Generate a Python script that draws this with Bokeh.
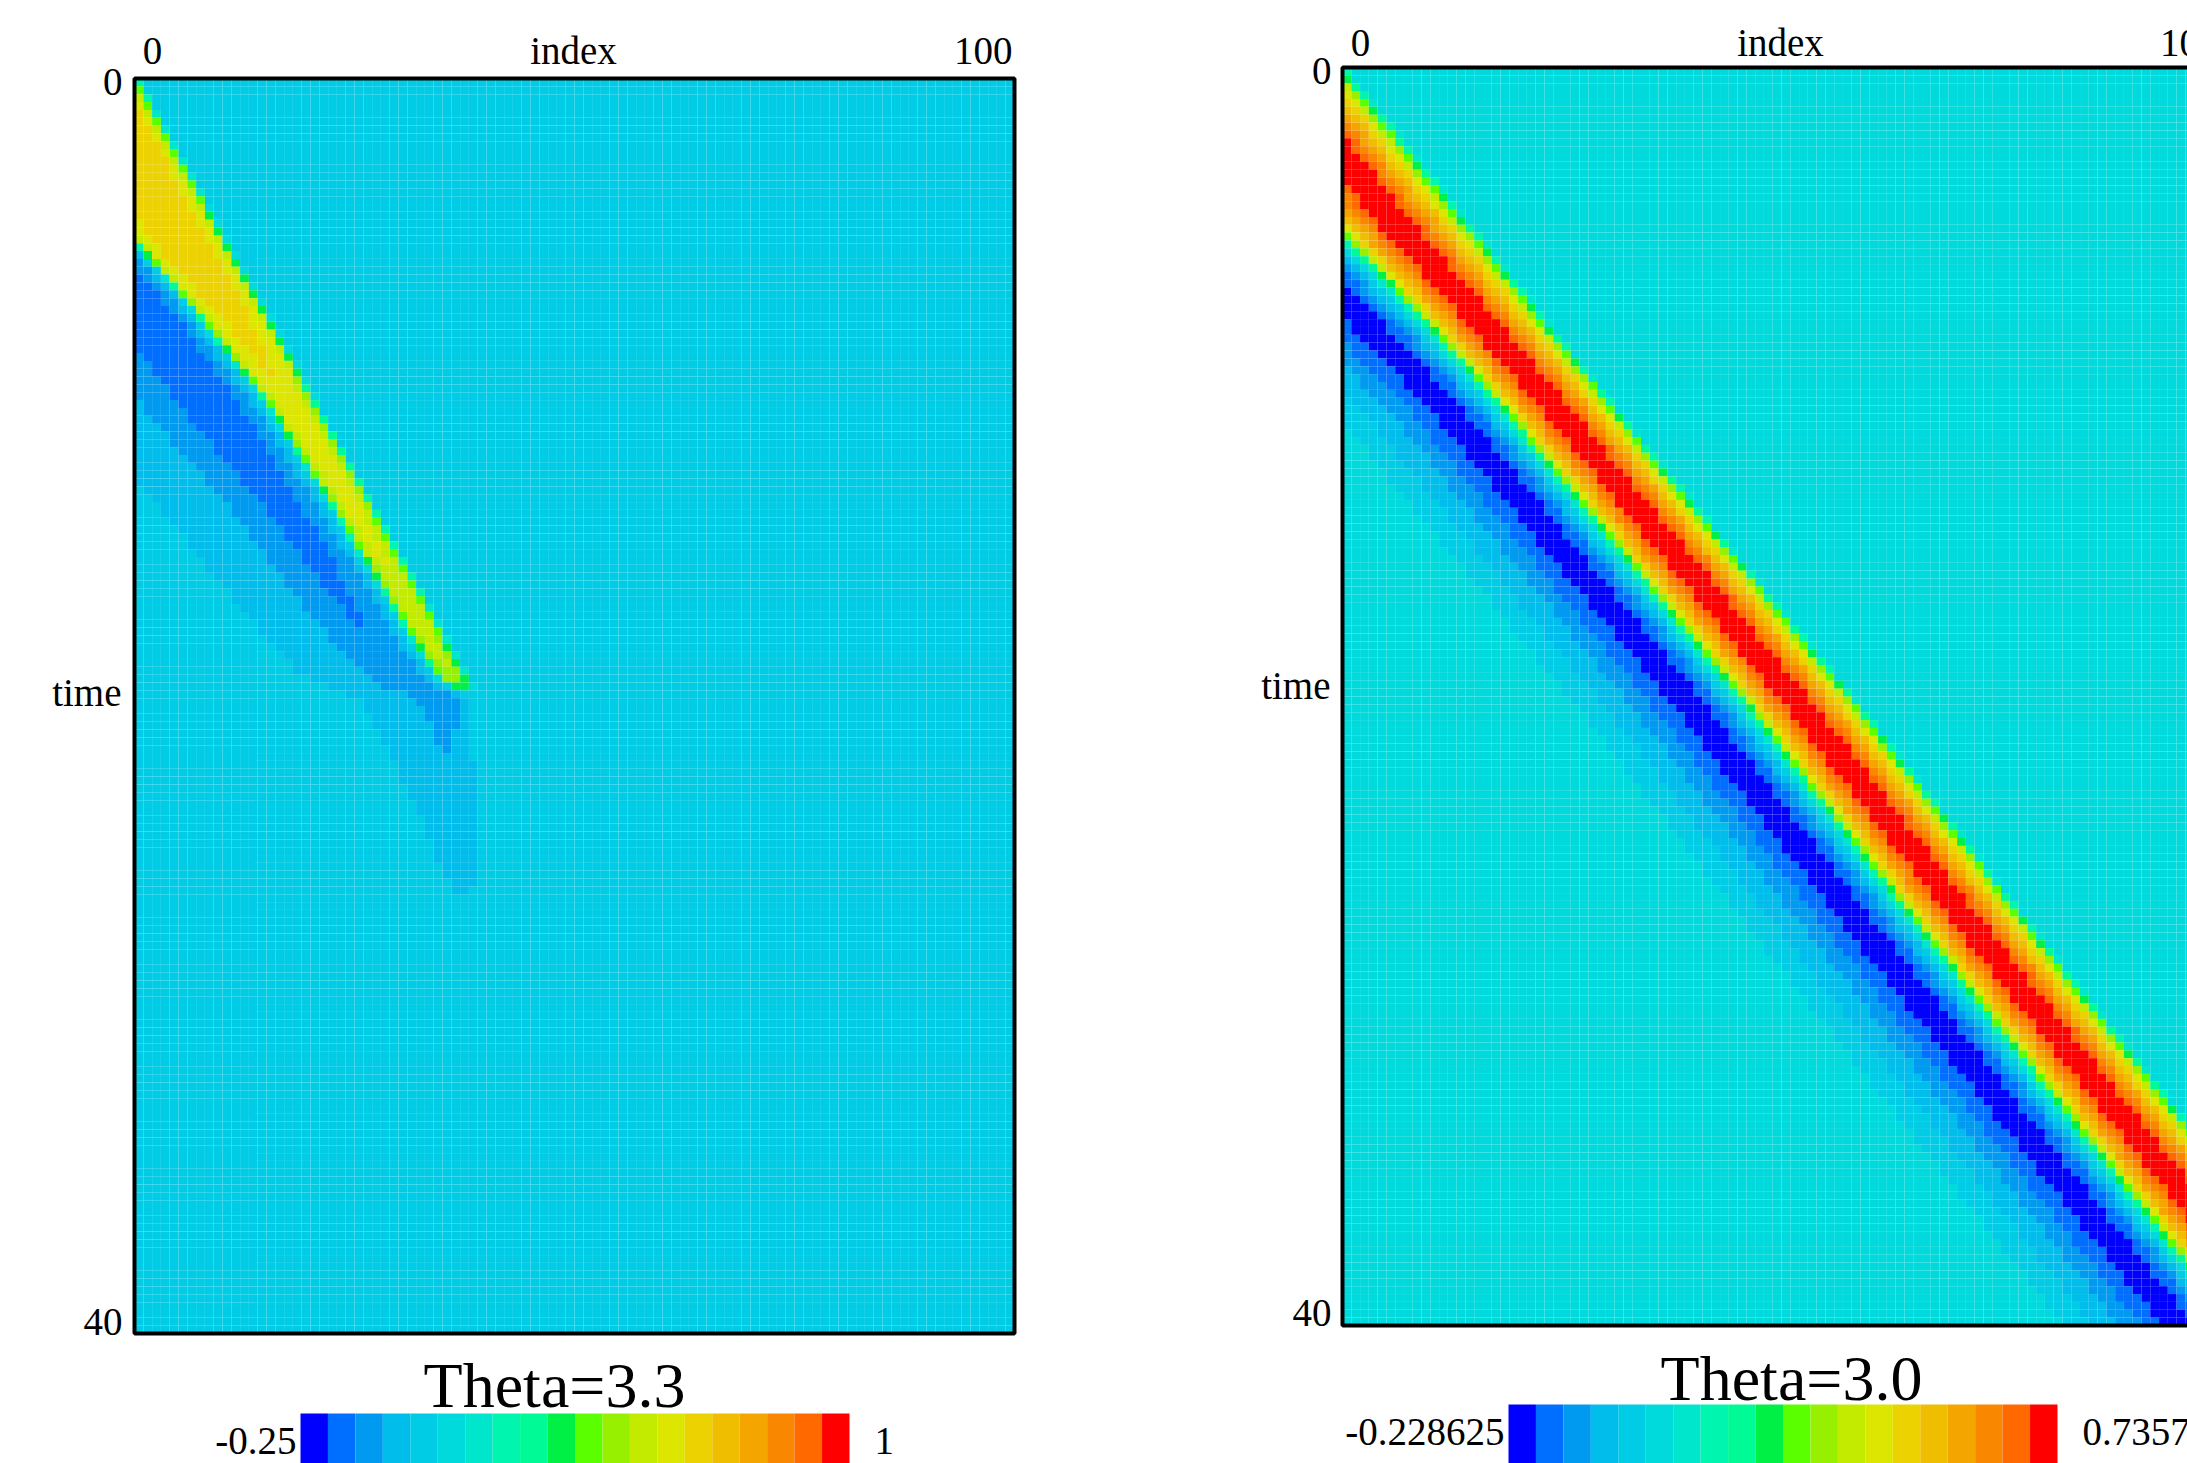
import numpy as np
from bokeh.plotting import figure
from bokeh.models import ColumnDataSource, LinearColorMapper, Label, Range1d
from bokeh.layouts import row, column
from bokeh.transform import transform
from bokeh.embed import file_html
from bokeh.resources import INLINE

FONT = "Liberation Serif"

# ---------------- colour levels (20 bands) ----------------
PALETTE = ["#0000ff", "#006eff", "#009bf0", "#00bdeb", "#00cce6",
           "#00dadc", "#00e6cd", "#00f5af", "#00fa96", "#00f046",
           "#5aff00", "#96f000", "#c3eb00", "#dce600", "#ebd200",
           "#f0be00", "#f5a500", "#fa8700", "#ff6900", "#ff0000"]

N_INDEX = 100          # index axis 0..100
N_TIME = 160           # time rows 0..40
T_MAX = 40
INDEX_TICKS = ["0", "100"]
TIME_TICKS = ["0", "40"]

# ---------------- left panel: Theta=3.3 ----------------
LEFT_TITLE = "Theta=3.3"
LEFT_MIN_LABEL, LEFT_MAX_LABEL = "-0.25", "1"
LEFT_LO, LEFT_HI = -0.25, 1.0
L_T       = [0.0, 2.5, 5.2, 7.5, 10.3, 13.5, 16.6, 18.2, 19.1, 19.4, 19.7, 21.0, 23.0, 25.0, 26.5, 40.0]
L_FRONT   = [0.0, 4.9, 10.2, 14.8, 20.3, 26.6, 32.7, 35.8, 37.6, 38.1, 38.5, 38.8, 39.1, 39.3, 39.3, 39.3]
L_WIDTH   = [9.5, 9.8, 10.0, 7.5, 5.2, 4.3, 3.7, 3.3, 2.8, 2.0, 0.0, 0.0, 0.0, 0.0, 0.0, 0.0]
L_AMP     = [0.66, 0.66, 0.65, 0.64, 0.62, 0.61, 0.60, 0.59, 0.56, 0.45, 0.0, 0.0, 0.0, 0.0, 0.0, 0.0]
L_DEPTH   = [0.19, 0.195, 0.195, 0.195, 0.18, 0.16, 0.14, 0.13, 0.12, 0.11, 0.10, 0.08, 0.05, 0.025, 0.0, 0.0]
L_STRETCH = [1.0, 1.0, 1.0, 1.0, 1.15, 1.0, 0.9, 0.85, 0.8, 0.75, 0.7, 0.6, 0.45, 0.35, 0.3, 0.3]
EDGE_X = [-1.0, -0.5, 0.0, 0.5, 1.0, 2.0, 3.0]
EDGE_V = [0.0, 0.1, 0.52, 0.8, 0.9, 0.97, 1.0]
TROUGH_X = [0.5, 1, 2, 3, 4, 5, 6, 7, 8, 10, 12, 14, 16, 18, 22]
TROUGH_V = [0.0, -0.2, -0.5, -0.75, -0.9, -1.0, -1.0, -0.95, -0.85, -0.65, -0.45, -0.3, -0.18, -0.1, 0.0]

# ---------------- right panel: Theta=3.0 ----------------
RIGHT_TITLE = "Theta=3.0"
RIGHT_MIN_LABEL, RIGHT_MAX_LABEL = "-0.228625", "0.735759"
RIGHT_LO, RIGHT_HI = -0.228625, 0.735759
R_T      = [0.0, 12.0, 20.1, 28.0, 34.4, 40.0]
R_FRONT  = [-0.6, 33.9, 57.8, 79.8, 98.0, 114.0]
R_STR_T  = [0.0, 5.0, 8.0, 11.0, 40.0]
R_STR    = [1.25, 1.22, 1.08, 1.0, 1.0]
R_D       = list(range(-1, 34))
R_PROFILE = [0.0, 0.24, 0.41, 0.50, 0.57, 0.64, 0.70, 0.7357, 0.72, 0.67, 0.60, 0.54, 0.45,
             0.25, 0.05, -0.06, -0.12, -0.17, -0.2, -0.2286, -0.225, -0.21, -0.19,
             -0.17, -0.15, -0.13, -0.11, -0.09, -0.075, -0.06, -0.045, -0.03, -0.015,
             0.0, 0.0]

# ---------------- grid ----------------
dt = T_MAX / N_TIME
tc = (np.arange(N_TIME) + 0.5) * dt
xc = np.arange(N_INDEX) + 0.5
TT, XX = np.meshgrid(tc, xc, indexing="ij")


def left_field():
    F = np.interp(TT, L_T, L_FRONT)
    W = np.interp(TT, L_T, L_WIDTH)
    A = np.interp(TT, L_T, L_AMP)
    B = np.interp(TT, L_T, L_DEPTH)
    S = np.interp(TT, L_T, L_STRETCH)
    d = F - XX
    crest = A * np.interp(d, EDGE_X, EDGE_V) * np.interp(W - d, EDGE_X, EDGE_V)
    trough = B * np.interp((d - W) / S, TROUGH_X, TROUGH_V, left=0.0, right=0.0)
    return crest + trough


def right_field():
    F = np.interp(TT, R_T, R_FRONT)
    s = np.interp(TT, R_STR_T, R_STR)
    d = (F - XX) / s
    return np.interp(d, R_D, R_PROFILE, left=0.0, right=0.0)


def cells(vals):
    r, c = np.meshgrid(np.arange(N_TIME), np.arange(N_INDEX), indexing="ij")
    return ColumnDataSource(dict(
        left=c.ravel().astype(float), right=(c.ravel() + 1).astype(float),
        top=(r.ravel() * dt), bottom=((r.ravel() + 1) * dt), v=vals.ravel()))


def lab(p, text, x, y, size, align, xo=0, yo=0):
    p.add_layout(Label(x=x, y=y, text=text, text_font=FONT, text_font_size=f"{size}px",
                       text_align=align, text_baseline="middle", x_offset=xo, y_offset=yo,
                       text_color="black"))


def heat_panel(vals, mapper, width, height, fx0, fy0, ppx, ppy, offs):
    # frame covers the whole canvas; data box [0,100]x[0,40] placed at (fx0, fy0)
    xr = Range1d(-fx0 / ppx, (width - fx0) / ppx)
    yr = Range1d((height - fy0) / ppy, -fy0 / ppy)
    p = figure(width=width, height=height, x_range=xr, y_range=yr, output_backend="svg",
               toolbar_location=None, title=None, x_axis_location=None,
               y_axis_location=None, min_border=0, outline_line_color=None,
               background_fill_color="white", border_fill_color="white")
    p.grid.visible = False
    p.quad(left="left", right="right", top="top", bottom="bottom", source=cells(vals),
           fill_color=transform("v", mapper), line_color=None)
    p.quad(left=0, right=N_INDEX, top=0, bottom=T_MAX, fill_color=None,
           line_color="black", line_width=4)
    top_yo, x0_xo, y_xo, y0_yo, time_yo, y40_yo = offs
    lab(p, INDEX_TICKS[0], 0, 0, 39, "center", xo=x0_xo, yo=top_yo)
    lab(p, "index", N_INDEX / 2, 0, 39, "center", xo=-1, yo=top_yo)
    lab(p, INDEX_TICKS[1], N_INDEX, 0, 39, "right", xo=-2, yo=top_yo)
    lab(p, TIME_TICKS[0], 0, 0, 39, "right", xo=y_xo, yo=y0_yo)
    lab(p, "time", 0, T_MAX / 2, 39, "right", xo=y_xo - 1, yo=time_yo)
    lab(p, TIME_TICKS[1], 0, T_MAX, 39, "right", xo=y_xo, yo=y40_yo)
    return p


def bar_panel(width, height, lo, hi, bar_l, bar_r, bar_top, lo_text, hi_text, title,
              title_cx, title_cy, lab_y):
    ppu = (bar_r - bar_l) / (hi - lo)
    x0 = lo - bar_l / ppu
    x1 = lo + (width - bar_l) / ppu
    p = figure(width=width, height=height, x_range=Range1d(x0, x1),
               y_range=Range1d(height, 0), output_backend="svg", toolbar_location=None,
               title=None, x_axis_location=None, y_axis_location=None, min_border=0,
               outline_line_color=None)
    p.grid.visible = False
    edges = np.linspace(lo, hi, len(PALETTE) + 1)
    p.quad(left=edges[:-1], right=edges[1:], top=bar_top, bottom=height + 5,
           fill_color=PALETTE, line_color=None)
    lab(p, lo_text, lo, lab_y, 39, "right", xo=-4)
    lab(p, hi_text, hi, lab_y, 39, "left", xo=25)
    lab(p, title, lo + (title_cx - bar_l) / ppu, title_cy, 64, "center")
    return p


left_mapper = LinearColorMapper(palette=PALETTE, low=-0.26, high=1.0)
right_mapper = LinearColorMapper(palette=PALETTE, low=-0.245, high=0.72)

pl = heat_panel(left_field(), left_mapper, 1108, 1346, 134, 78, 8.8, 31.375,
                (28, 18, -12, -3, 13.5, 12))
pr = heat_panel(right_field(), right_mapper, 1079, 1338, 234, 67, 8.78, 31.45,
                (25, 18, -11, -3, 11, 13))

bl = bar_panel(1108, 117, LEFT_LO, LEFT_HI, 300, 849, 67, LEFT_MIN_LABEL, LEFT_MAX_LABEL,
               LEFT_TITLE, 554, 39, 94)
br = bar_panel(1079, 125, RIGHT_LO, RIGHT_HI, 400, 949, 66, RIGHT_MIN_LABEL, RIGHT_MAX_LABEL,
               RIGHT_TITLE, 683, 40, 93)

layout = row(column(pl, bl), column(pr, br))
open("out.html", "w").write(file_html(layout, INLINE))
